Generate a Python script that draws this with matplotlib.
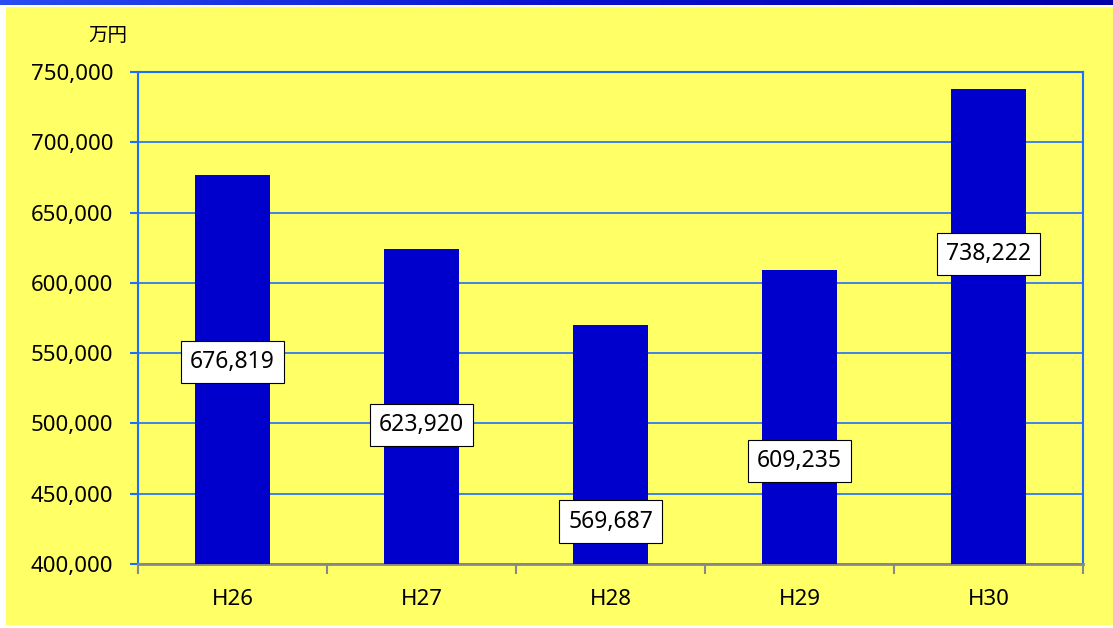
import numpy as np
import matplotlib.pyplot as plt
from matplotlib.patches import Rectangle
from matplotlib.colors import LinearSegmentedColormap
from matplotlib.ticker import FuncFormatter, MultipleLocator

plt.rcParams['font.family'] = ['Noto Sans', 'Noto Sans CJK JP', 'DejaVu Sans']

# 年度別の金額（万円）
years = ['H26', 'H27', 'H28', 'H29', 'H30']
amounts = [676819, 623920, 569687, 609235, 738222]
# ラベルを置く高さ（軸の値）
label_y = [543700, 498900, 430200, 473300, 620500]

fig = plt.figure(figsize=(11.13, 6.28), dpi=100)
fig.patch.set_facecolor('white')

# 背景の黄色と上端の青い帯
fig.patches.append(Rectangle((6 / 1113, 0.004), 1 - 6 / 1113, 1 - 7 / 628 - 0.004,
                             transform=fig.transFigure, facecolor='#FFFF66',
                             edgecolor='none', zorder=-10))
band = fig.add_axes([0, 1 - 5 / 628, 1, 5 / 628])
grad = np.linspace(0, 1, 256).reshape(1, -1)
cmap = LinearSegmentedColormap.from_list('band', ['#2a4cf0', '#0a10d0', '#0000a8'])
band.imshow(grad, aspect='auto', cmap=cmap, extent=[0, 1, 0, 1])
band.axis('off')

ax = fig.add_axes([138 / 1113, 1 - 564 / 628, (1083 - 138) / 1113, (564 - 72) / 628])
ax.set_facecolor('none')

x = np.arange(len(years))
ax.bar(x, amounts, width=0.4, color='#0000CC', zorder=3)

for xi, ly, v in zip(x, label_y, amounts):
    ax.text(xi, ly, f'{v:,}', ha='center', va='center', fontsize=16.5, zorder=5,
            bbox=dict(boxstyle='square,pad=0.4', facecolor='white',
                      edgecolor='black', linewidth=0.8))

ax.set_xlim(-0.5, len(years) - 0.5)
ax.set_ylim(400000, 750000)
ax.yaxis.set_major_locator(MultipleLocator(50000))
ax.yaxis.set_major_formatter(FuncFormatter(lambda v, p: f'{int(v):,}'))
ax.grid(axis='y', color='#1E6EFF', linewidth=1.2, zorder=1)
ax.set_axisbelow(True)

ax.set_xticks(x)
ax.set_xticklabels(years)
ax.set_xticks(np.arange(-0.5, len(years)), minor=True)
ax.tick_params(axis='x', which='major', length=0, pad=18, labelsize=16)
ax.tick_params(axis='x', which='minor', length=7, color='#888888', width=1.5)
ax.tick_params(axis='y', length=6, color='#1E6EFF', width=1.5, labelsize=16, pad=12)

for s in ['left', 'top', 'right']:
    ax.spines[s].set_color('#1E6EFF')
    ax.spines[s].set_linewidth(1.5)
ax.spines['bottom'].set_color('#888888')
ax.spines['bottom'].set_linewidth(2)

fig.text(127 / 1113, 1 - 36 / 628, '万円', ha='right', va='center', fontsize=14)

fig.savefig('out.png', dpi=100)
